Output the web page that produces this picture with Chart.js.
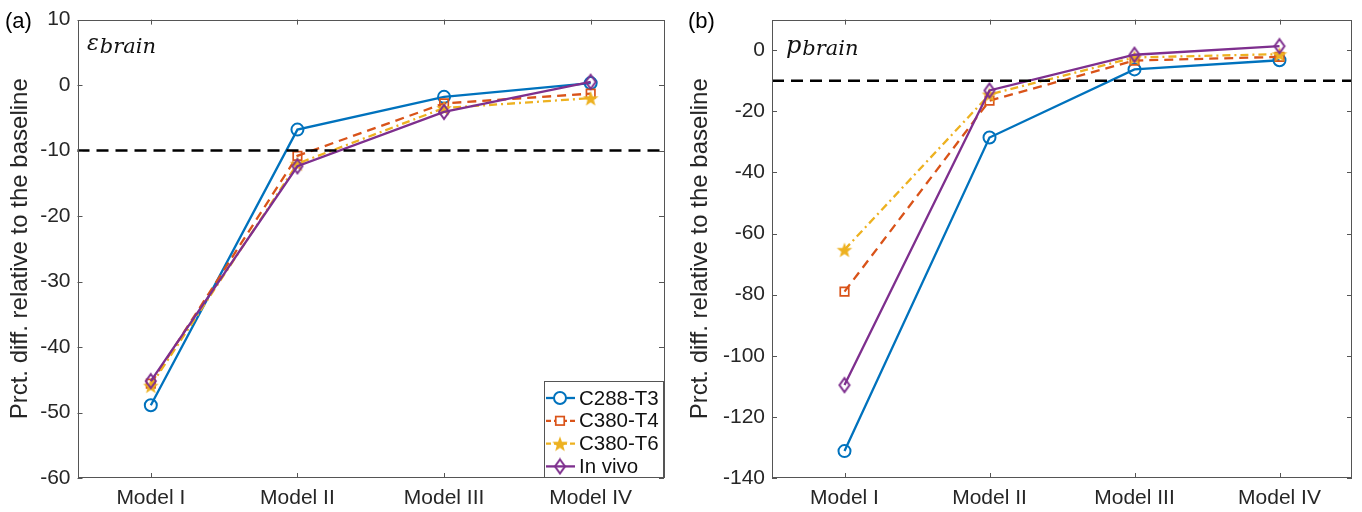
<!DOCTYPE html>
<html><head><meta charset="utf-8">
<script src="https://cdn.jsdelivr.net/npm/chart.js@4.4.0/dist/chart.umd.min.js"></script>
<style>
html,body{margin:0;padding:0;background:#fff;}
#wrap{position:relative;width:1362px;height:512px;overflow:hidden;background:#fff;}
canvas{position:absolute;top:0;}
</style></head><body>
<div id="wrap">
<canvas id="ca" width="680" height="512" style="left:0px"></canvas>
<canvas id="cb" width="682" height="512" style="left:680px"></canvas>
</div>
<script>
// ---------- data ----------
const categories = ['Model I', 'Model II', 'Model III', 'Model IV'];
const seriesNames = ['C288-T3', 'C380-T4', 'C380-T6', 'In vivo'];

// (a) epsilon_brain
const epsC288T3 = [-48.9, -6.8, -1.8, 0.3];
const epsC380T4 = [-45.6, -10.8, -2.8, -1.3];
const epsC380T6 = [-45.9, -12.0, -3.5, -2.0];
const epsInVivo = [-45.2, -12.4, -4.1, 0.5];

// (b) p_brain
const pC288T3 = [-131.2, -28.6, -6.3, -3.3];
const pC380T4 = [-79.0, -16.5, -3.4, -2.2];
const pC380T6 = [-65.3, -14.5, -2.4, -1.3];
const pInVivo = [-109.6, -13.2, -1.5, 1.3];

const epsTicks = [-60, -50, -40, -30, -20, -10, 0, 10];
const pTicks = [-140, -120, -100, -80, -60, -40, -20, 0];
const epsRange = [-60, 10];
const pRange = [-140, 10];
const threshold = -10;
const yTitle = 'Prct. diff. relative to the baseline';

// ---------- styles ----------
const BLUE = '#0072BD', ORANGE = '#D95319', YELLOW = '#EDB120', PURPLE = '#7E2F8E';
const SANS = '"Liberation Sans", Arial, sans-serif';
const TXT = '#262626';

function starCanvas(color) {
  const s = 18, c = document.createElement('canvas');
  c.width = s; c.height = s;
  const g = c.getContext('2d');
  g.fillStyle = color;
  g.beginPath();
  const R = 8.2, r = 3.4;
  for (let i = 0; i < 10; i++) {
    const a = -Math.PI / 2 + i * Math.PI / 5;
    const rr = (i % 2) ? r : R;
    g.lineTo(s / 2 + rr * Math.cos(a), s / 2 + 0.9 + rr * Math.sin(a));
  }
  g.closePath(); g.fill();
  return c;
}
function diamondCanvas(color) {
  const w = 14, h = 18, c = document.createElement('canvas');
  c.width = w; c.height = h;
  const g = c.getContext('2d');
  g.strokeStyle = color; g.lineWidth = 2;
  g.beginPath();
  g.moveTo(7, 2); g.lineTo(12, 9); g.lineTo(7, 16); g.lineTo(2, 9); g.closePath();
  g.stroke();
  return c;
}

const seriesStyles = [
  { color: BLUE, dash: [], point: 'circle', radius: 6, pbw: 2, order: 3 },
  { color: ORANGE, dash: [9, 6], point: 'rect', radius: 6, pbw: 1.7, order: 2 },
  { color: YELLOW, dash: [8, 4, 2, 4], point: starCanvas(YELLOW), radius: 8, pbw: 1, order: 1 },
  { color: PURPLE, dash: [], point: diamondCanvas(PURPLE), radius: 8, pbw: 2, order: 0 }
];

function buildDatasets(seriesList) {
  return seriesList.map((vals, i) => {
    const st = seriesStyles[i];
    return {
      label: seriesNames[i],
      data: vals,
      borderColor: st.color,
      borderWidth: 2.3,
      borderDash: st.dash,
      fill: false,
      tension: 0,
      pointStyle: st.point,
      pointRadius: st.radius,
      pointBorderWidth: st.pbw,
      pointBorderColor: st.color,
      pointBackgroundColor: 'rgba(0,0,0,0)',
      order: st.order
    };
  });
}

// ---------- decorations plugin ----------
const deco = {
  id: 'deco',
  afterDatasetsDraw(chart, args, o) {
    const { ctx, chartArea: a, scales: { x, y } } = chart;
    ctx.save();
    // threshold
    const ty = y.getPixelForValue(o.threshold);
    ctx.strokeStyle = '#000'; ctx.lineWidth = 2.6; ctx.setLineDash([12, 7]);
    ctx.beginPath(); ctx.moveTo(a.left, ty); ctx.lineTo(a.right, ty); ctx.stroke();
    ctx.setLineDash([]);
    // box
    ctx.strokeStyle = '#555'; ctx.lineWidth = 1;
    ctx.strokeRect(Math.round(a.left) + 0.5, Math.round(a.top) + 0.5, Math.round(a.width) - 1, Math.round(a.height) - 1);
    // inner ticks
    ctx.beginPath();
    y.ticks.forEach(t => {
      const p = Math.round(y.getPixelForValue(t.value)) + 0.5;
      ctx.moveTo(a.left, p); ctx.lineTo(a.left + 5, p);
      ctx.moveTo(a.right, p); ctx.lineTo(a.right - 5, p);
    });
    x.ticks.forEach((t, i) => {
      const p = Math.round(x.getPixelForTick(i)) + 0.5;
      ctx.moveTo(p, a.bottom); ctx.lineTo(p, a.bottom - 5);
      ctx.moveTo(p, a.top); ctx.lineTo(p, a.top + 5);
    });
    ctx.stroke();
    // panel label
    ctx.fillStyle = '#000';
    ctx.font = '22px ' + SANS;
    ctx.textBaseline = 'middle';
    ctx.textAlign = 'left';
    ctx.fillText(o.panel, o.panelX, 22);
    // math label
    ctx.textBaseline = 'alphabetic';
    ctx.fillStyle = '#111';
    ctx.font = 'italic ' + o.mainSize + 'px "DejaVu Serif", serif';
    const mx = a.left + o.mathDx;
    ctx.fillText(o.main, mx, a.top + o.mainDy);
    const w = ctx.measureText(o.main).width;
    ctx.font = 'italic 21px "DejaVu Serif", serif';
    ctx.fillText(o.sub, mx + w + 1, a.top + o.subDy);
    ctx.restore();
  },
  afterDraw(chart, args, o) {
    if (!o.legend) return;
    const { ctx, chartArea: a } = chart;
    const bw = 120, bh = 97;
    const bx = a.right - bw, by = a.bottom - bh;
    ctx.save();
    ctx.fillStyle = '#fff';
    ctx.fillRect(bx, by, bw, bh);
    ctx.strokeStyle = '#555'; ctx.lineWidth = 1;
    ctx.strokeRect(Math.round(bx) + 0.5, Math.round(by) + 0.5, bw - 1, bh - 1);
    chart.data.datasets.forEach((ds, i) => {
      const cy = by + 17 + i * 22.8;
      const x0 = bx + 2, x1 = bx + 31, xm = bx + 16;
      ctx.strokeStyle = ds.borderColor; ctx.lineWidth = 2.3;
      ctx.setLineDash(ds.borderDash && ds.borderDash.length ? [5, 3] : []);
      ctx.beginPath(); ctx.moveTo(x0, cy); ctx.lineTo(x1, cy); ctx.stroke();
      ctx.setLineDash([]);
      const ps = ds.pointStyle;
      ctx.lineWidth = ds.pointBorderWidth;
      if (typeof ps === 'object') {
        ctx.drawImage(ps, xm - ps.width / 2, cy - ps.height / 2);
      } else if (ps === 'circle') {
        ctx.fillStyle = '#fff';
        ctx.beginPath(); ctx.arc(xm, cy, ds.pointRadius, 0, Math.PI * 2); ctx.fill(); ctx.stroke();
      } else if (ps === 'rect') {
        const s = ds.pointRadius * Math.SQRT1_2;
        ctx.fillStyle = '#fff';
        ctx.fillRect(xm - s, cy - s, 2 * s, 2 * s);
        ctx.strokeRect(xm - s, cy - s, 2 * s, 2 * s);
      }
      ctx.fillStyle = '#111';
      ctx.font = '20.5px ' + SANS;
      ctx.textBaseline = 'middle';
      ctx.textAlign = 'left';
      ctx.fillText(ds.label, bx + 35, cy + 1);
    });
    ctx.restore();
  }
};

function makeChart(id, seriesList, range, ticks, pad, yWidth, decoOpts) {
  return new Chart(document.getElementById(id), {
    type: 'line',
    data: { labels: categories, datasets: buildDatasets(seriesList) },
    plugins: [deco],
    options: {
      responsive: false,
      animation: false,
      devicePixelRatio: 1,
      layout: { padding: pad },
      plugins: { legend: { display: false }, tooltip: { enabled: false }, deco: decoOpts },
      scales: {
        x: {
          type: 'category', offset: true,
          grid: { display: false, drawTicks: false },
          border: { display: false },
          ticks: { font: { family: SANS, size: 21 }, color: TXT, padding: 8, maxRotation: 0 },
          afterFit: s => { s.height = 34; }
        },
        y: {
          min: range[0], max: range[1],
          grid: { display: false, drawTicks: false },
          border: { display: false },
          ticks: { font: { family: SANS, size: 21 }, color: TXT, padding: 7 },
          afterBuildTicks: s => { s.ticks = ticks.map(v => ({ value: v })); },
          title: { display: true, text: yTitle, color: TXT, font: { family: SANS, size: 24 }, padding: { top: 6, bottom: 0 } },
          afterFit: s => { s.width = yWidth; }
        }
      }
    }
  });
}

makeChart('ca', [epsC288T3, epsC380T4, epsC380T6, epsInVivo], epsRange, epsTicks,
  { left: 0, right: 16, top: 19.5, bottom: 0 }, 77.5,
  { threshold: threshold, panel: '(a)', panelX: 5, main: 'ε', sub: 'brain', mainSize: 22, mathDx: 9.5, mainDy: 30.5, subDy: 33.5, legend: true });

makeChart('cb', [pC288T3, pC380T4, pC380T6, pInVivo], pRange, pTicks,
  { left: 0, right: 6, top: 19.5, bottom: 0 }, 92,
  { threshold: threshold, panel: '(b)', panelX: 8, main: 'p', sub: 'brain', mainSize: 24, mathDx: 14, mainDy: 33.8, subDy: 35.5, legend: false });
</script>
</body></html>
